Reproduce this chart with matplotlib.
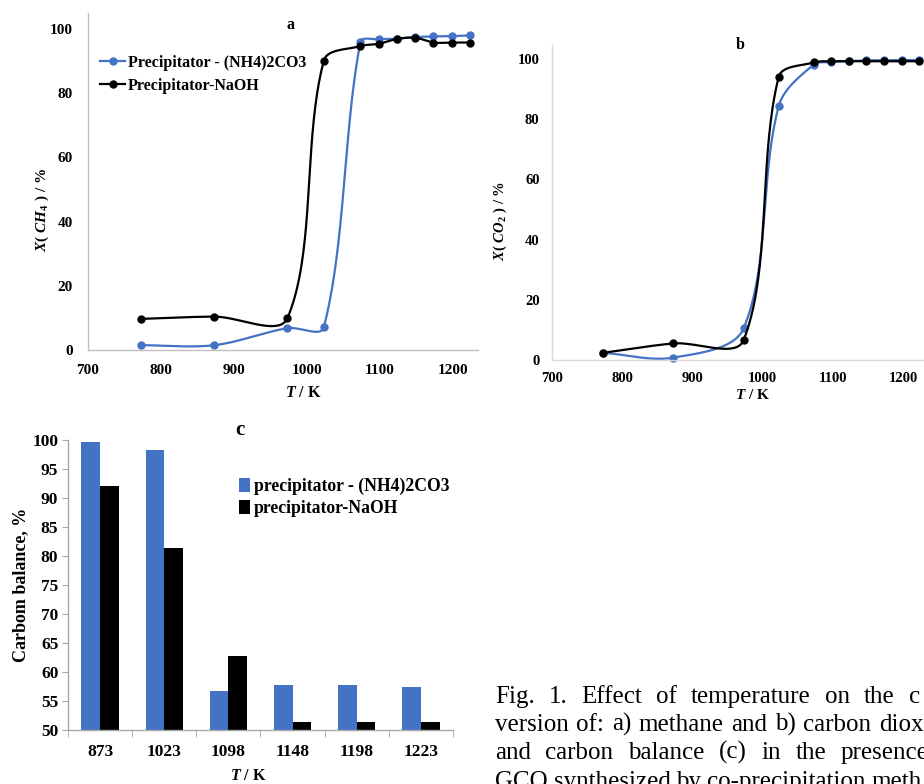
import numpy as np
import matplotlib
matplotlib.use("Agg")
import matplotlib.pyplot as plt
from matplotlib.lines import Line2D

plt.rcParams['font.family'] = ['Liberation Serif', 'DejaVu Serif']
plt.rcParams['mathtext.fontset'] = 'custom'
plt.rcParams['mathtext.rm'] = 'Liberation Serif:bold'
plt.rcParams['mathtext.it'] = 'Liberation Serif:bold:italic'
plt.rcParams['mathtext.bf'] = 'Liberation Serif:bold'

# ---------------- data ----------------
temps = [773, 873, 973, 1023, 1073, 1098, 1123, 1148, 1173, 1198, 1223]
ch4_nh4 = [1.5, 1.5, 6.8, 7.1, 96.0, 96.8, 97.0, 97.5, 97.7, 97.8, 98.0]
ch4_naoh = [9.7, 10.4, 9.9, 90.2, 94.7, 95.4, 96.9, 97.3, 95.8, 95.8, 95.8]
co2_nh4 = [2.4, 0.8, 10.5, 84.4, 98.2, 99.0, 99.3, 99.6, 99.6, 99.7, 99.7]
co2_naoh = [2.4, 5.5, 6.6, 94.1, 98.9, 99.3, 99.3, 99.3, 99.3, 99.3, 99.3]

bar_cats = ['873', '1023', '1098', '1148', '1198', '1223']
cb_nh4 = [99.6, 98.2, 56.7, 57.8, 57.8, 57.4]
cb_naoh = [92.0, 81.3, 62.7, 51.4, 51.4, 51.3]

lab_nh4_line = 'Precipitator - (NH4)2CO3'
lab_naoh_line = 'Precipitator-NaOH'
lab_nh4_bar = 'precipitator - (NH4)2CO3'
lab_naoh_bar = 'precipitator-NaOH'

caption_lines = ['Fig. 1. Effect of temperature on the c',
                 'version of: a) methane and b) carbon diox',
                 'and carbon balance (c) in the presence',
                 'GCO synthesized by co-precipitation meth']

BLUE = '#4472C4'
W, H = 924, 784


def smooth_curve(ax, xs, ys, n=40):
    """Excel-like smoothed line through the points, computed in display space."""
    pts = ax.transData.transform(np.column_stack([xs, ys]))
    out = [pts[0]]
    m = len(pts)
    tang = []
    for i in range(m):
        p_prev = pts[max(i - 1, 0)]
        p_next = pts[min(i + 1, m - 1)]
        tang.append(p_next - p_prev)
    for i in range(m - 1):
        p0, p1 = pts[i], pts[i + 1]
        dcur = np.linalg.norm(p1 - p0)
        dprev = np.linalg.norm(p0 - pts[i - 1]) if i > 0 else dcur
        dnext = np.linalg.norm(pts[i + 2] - p1) if i + 2 < m else dcur
        c1 = p0 + tang[i] * dcur / (dprev + dcur) / 3.0 if i > 0 else p0 + (p1 - p0) / 3.0
        c2 = p1 - tang[i + 1] * dcur / (dcur + dnext) / 3.0 if i + 2 < m else p1 - (p1 - p0) / 3.0
        t = np.linspace(0, 1, n)[1:, None]
        seg = ((1 - t) ** 3) * p0 + 3 * ((1 - t) ** 2) * t * c1 + 3 * (1 - t) * t ** 2 * c2 + t ** 3 * p1
        out.extend(seg)
    out = np.array(out)
    return ax.transData.inverted().transform(out)


def ax_rect(l, t, r, b):
    return [l / W, 1 - b / H, (r - l) / W, (b - t) / H]


fig = plt.figure(figsize=(W / 100, H / 100), dpi=100)

# ---------------- panel a ----------------
axa = fig.add_axes(ax_rect(88, 13, 478, 350))
axa.set_xlim(700, 1234)
axa.set_ylim(0, 105)
axa.set_xticks([700, 800, 900, 1000, 1100, 1200])
axa.set_yticks([0, 20, 40, 60, 80, 100])
for s in ['top', 'right']:
    axa.spines[s].set_visible(False)
for s in ['left', 'bottom']:
    axa.spines[s].set_color('#BFBFBF')
    axa.spines[s].set_linewidth(1.0)
axa.tick_params(axis='y', length=0, pad=11, labelsize=11)
axa.tick_params(axis='x', length=0, pad=10, labelsize=11)
for lab in axa.get_xticklabels() + axa.get_yticklabels():
    lab.set_fontweight('bold')
fig.canvas.draw()
for ys, col in [(ch4_nh4, BLUE), (ch4_naoh, 'black')]:
    c = smooth_curve(axa, temps, ys)
    axa.plot(c[:, 0], c[:, 1], color=col, lw=1.6, solid_capstyle='round')
    axa.plot(temps, ys, 'o', color=col, ms=5)
axa.set_xlabel(r'$T\ \mathrm{/\ K}$', fontsize=11.5)
axa.set_ylabel(r'$X(\ CH_4\ )\ \mathrm{/\ \%}$', fontsize=11)
axa.xaxis.set_label_coords((303 - 88) / 390, -(393 - 350) / 337)
axa.yaxis.set_label_coords(-(88 - 42) / 390, (350 - 210) / 337)
axa.xaxis.label.set_va('center')
axa.yaxis.label.set_va('center')
axa.text(0.52, 0.965, 'a', transform=axa.transAxes, ha='center', va='center',
         fontsize=11.5, fontweight='bold')
hl = [Line2D([], [], color=BLUE, lw=1.6, marker='o', ms=5),
      Line2D([], [], color='black', lw=1.6, marker='o', ms=5)]
axa.legend(hl, [lab_nh4_line, lab_naoh_line], loc='upper left',
           bbox_to_anchor=(0.01, 0.9), frameon=False, handlelength=1.6,
           handletextpad=0.15, borderpad=0, labelspacing=0.45,
           prop=dict(family='Liberation Serif', weight='bold', size=11.5))

# ---------------- panel b ----------------
axb = fig.add_axes(ax_rect(552, 45, 924, 360))
axb.set_xlim(700, 1230)
axb.set_ylim(0, 104.7)
axb.set_xticks([700, 800, 900, 1000, 1100, 1200])
axb.set_yticks([0, 20, 40, 60, 80, 100])
for s in ['top', 'right']:
    axb.spines[s].set_visible(False)
for s in ['left', 'bottom']:
    axb.spines[s].set_color('#D9D9D9')
    axb.spines[s].set_linewidth(1.0)
axb.tick_params(axis='y', length=0, pad=9, labelsize=10.5)
axb.tick_params(axis='x', length=0, pad=9, labelsize=10.5)
for lab in axb.get_xticklabels() + axb.get_yticklabels():
    lab.set_fontweight('bold')
fig.canvas.draw()
for ys, col in [(co2_nh4, BLUE), (co2_naoh, 'black')]:
    c = smooth_curve(axb, temps, ys)
    axb.plot(c[:, 0], c[:, 1], color=col, lw=1.6, solid_capstyle='round', clip_on=False)
    axb.plot(temps, ys, 'o', color=col, ms=5, clip_on=False)
axb.set_xlabel(r'$T\ \mathrm{/\ K}$', fontsize=11)
axb.set_ylabel(r'$X(\ CO_2\ )\ \mathrm{/\ \%}$', fontsize=10.5)
axb.xaxis.set_label_coords((753 - 552) / 372, -(395 - 360) / 315)
axb.yaxis.set_label_coords(-(552 - 500) / 372, (360 - 221) / 315)
axb.xaxis.label.set_va('center')
axb.yaxis.label.set_va('center')
axb.text(188 / 372, 1.0, 'b', transform=axb.transAxes, ha='center', va='center',
         fontsize=11.5, fontweight='bold')

# ---------------- panel c ----------------
axc = fig.add_axes(ax_rect(68, 440, 453, 730))
x = np.arange(len(bar_cats))
bw = 0.29
axc.bar(x - bw / 2, cb_nh4, width=bw, color=BLUE, label=lab_nh4_bar)
axc.bar(x + bw / 2, cb_naoh, width=bw, color='black', label=lab_naoh_bar)
axc.set_ylim(50, 100)
axc.set_xlim(-0.5, len(bar_cats) - 0.5)
axc.set_yticks(np.arange(50, 101, 5))
axc.set_xticks(x)
axc.set_xticklabels(bar_cats)
axc.set_xticks(np.arange(-0.5, len(bar_cats), 1.0), minor=True)
for s in ['top', 'right']:
    axc.spines[s].set_visible(False)
for s in ['left', 'bottom']:
    axc.spines[s].set_color('#A6A6A6')
    axc.spines[s].set_linewidth(1.0)
axc.tick_params(axis='y', length=4, color='#A6A6A6', pad=3, labelsize=12.5)
axc.tick_params(axis='x', which='major', length=0, pad=10, labelsize=12.5)
axc.tick_params(axis='x', which='minor', length=5, color='#A6A6A6')
for lab in axc.get_xticklabels() + axc.get_yticklabels():
    lab.set_fontweight('bold')
axc.set_xlabel(r'$T\ \mathrm{/\ K}$', fontsize=11.5)
axc.set_ylabel('Carbom balance, %', fontsize=13, fontweight='bold', labelpad=2)
axc.xaxis.set_label_coords((248 - 68) / 385, -(776 - 730) / 290)
axc.xaxis.label.set_va('center')
axc.text(240 / W, 1 - 430 / H, 'c', transform=fig.transFigure, ha='center', va='center',
         fontsize=15, fontweight='bold')
axc.legend(loc='upper left', bbox_to_anchor=(0.42, 0.9), frameon=False,
           handlelength=0.65, handleheight=0.9, handletextpad=0.2, borderpad=0,
           labelspacing=0.25, prop=dict(family='Liberation Serif', weight='bold', size=12.7))

# ---------------- caption (justified lines, cut at the right edge) ----------------
cap_font = dict(family='Liberation Serif', size=18, va='baseline', ha='left')
renderer = fig.canvas.get_renderer()
line_specs = [(703, 14.0), (731, 7.6), (759, 14.5), (788, 6.0)]
for text_line, (base_y, gap) in zip(caption_lines, line_specs):
    xp = 495.0
    for word in text_line.split(' '):
        t = fig.text(xp / W, 1 - base_y / H, word, **cap_font)
        bb = t.get_window_extent(renderer)
        xp = bb.x1 + gap

fig.savefig('out.png', dpi=100)
